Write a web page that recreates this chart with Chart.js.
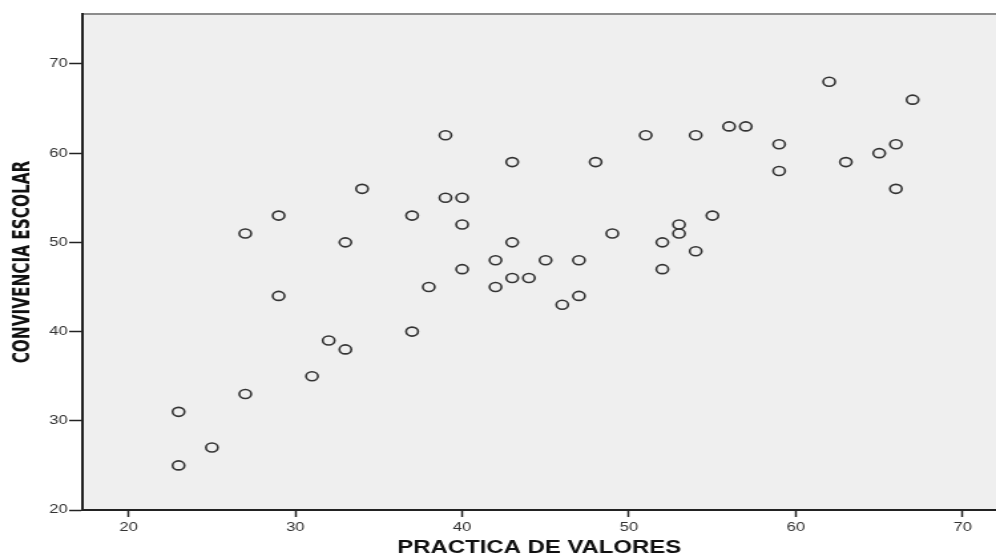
<!DOCTYPE html>
<html>
<head>
<meta charset="utf-8">
<script src="https://cdn.jsdelivr.net/npm/chart.js@4"></script>
<style>
  html, body { margin: 0; padding: 0; background: #fff; overflow: hidden; }
  /* the reference image is stretched sideways, so draw narrow and stretch */
  #wrap { width: 749px; height: 559px; transform: scaleX(1.32977); transform-origin: 0 0; }
</style>
</head>
<body>
<div id="wrap"><canvas id="chart_scatter"></canvas></div>
<script>
// PRACTICA DE VALORES (x) vs CONVIVENCIA ESCOLAR (y)
const practica = [23, 23, 25, 27, 27, 29, 29, 31, 32, 33, 33, 34, 37, 37, 38, 39, 39, 40, 40, 40,
                  42, 42, 43, 43, 43, 44, 45, 46, 47, 47, 48, 49, 51, 52, 52, 53, 53, 54, 54, 55,
                  56, 57, 59, 59, 62, 63, 65, 66, 66, 67];
const convivencia = [31, 25, 27, 33, 51, 53, 44, 35, 39, 38, 50, 56, 53, 40, 45, 62, 55, 55, 52, 47,
                     48, 45, 59, 50, 46, 46, 48, 43, 48, 44, 59, 51, 62, 50, 47, 52, 51, 62, 49, 53,
                     63, 63, 61, 58, 68, 59, 60, 61, 56, 66];
const xTicks = [20, 30, 40, 50, 60, 70];
const yTicks = [20, 30, 40, 50, 60, 70];

const plotFrame = {
    id: 'plotFrame',
    beforeDraw(chart) {
        const {ctx, chartArea: a} = chart;
        ctx.save();
        ctx.fillStyle = '#efefef';
        ctx.fillRect(a.left, a.top, a.right - a.left, a.bottom - a.top);
        ctx.strokeStyle = '#8c8c8c';
        ctx.lineWidth = 2;
        ctx.beginPath();
        ctx.moveTo(a.left, a.top);
        ctx.lineTo(a.right, a.top);
        ctx.stroke();
        ctx.restore();
    }
};

new Chart(
    document.getElementById('chart_scatter'),
    {
        type: 'scatter',
        data: {
            datasets: [
                {
                    label: 'CONVIVENCIA ESCOLAR',
                    data: practica.map((x, i) => ({x: x, y: convivencia[i]})),
                    pointStyle: 'circle',
                    pointRadius: 4.5,
                    pointBorderWidth: 1.6,
                    borderColor: '#333',
                    backgroundColor: 'rgba(0,0,0,0)'
                }
            ]
        },
        options: {
            responsive: true,
            maintainAspectRatio: false,
            animation: false,
            layout: { autoPadding: false, padding: { top: 14, right: 0, bottom: 0, left: 0 } },
            plugins: { legend: { display: false }, tooltip: { enabled: false } },
            scales: {
                x: {
                    type: 'linear',
                    min: 17.24,
                    max: 72,
                    afterBuildTicks: axis => { axis.ticks = xTicks.map(v => ({value: v})); },
                    afterFit: axis => { axis.height = 49; },
                    grid: { drawOnChartArea: false, drawTicks: true, tickLength: 7, tickWidth: 1.5, tickColor: '#222' },
                    border: { color: '#222', width: 2 },
                    ticks: { padding: 3, color: '#333', font: { family: 'Liberation Sans, Arial, sans-serif', size: 12.5 } },
                    title: {
                        display: true,
                        text: 'PRACTICA DE VALORES',
                        color: '#111',
                        padding: { top: 0, bottom: 0 },
                        font: { family: 'Liberation Sans, Arial, sans-serif', size: 18, weight: 'bold', lineHeight: 1.2 }
                    }
                },
                y: {
                    type: 'linear',
                    min: 20,
                    max: 75.6,
                    afterBuildTicks: axis => { axis.ticks = yTicks.map(v => ({value: v})); },
                    afterFit: axis => { axis.width = 62; },
                    grid: { drawOnChartArea: false, drawTicks: true, tickLength: 10, tickWidth: 1.5, tickColor: '#222' },
                    border: { color: '#222', width: 2 },
                    ticks: { padding: 1, color: '#333', font: { family: 'Liberation Sans, Arial, sans-serif', size: 12.5 } },
                    title: {
                        display: true,
                        text: 'CONVIVENCIA ESCOLAR',
                        color: '#111',
                        padding: { top: 7, bottom: 0 },
                        font: { family: 'Liberation Sans Narrow, Arial Narrow, DejaVu Sans Condensed, sans-serif', size: 17, weight: 'bold', lineHeight: 1.2 }
                    }
                }
            }
        },
        plugins: [plotFrame]
    }
);
</script>
</body>
</html>
